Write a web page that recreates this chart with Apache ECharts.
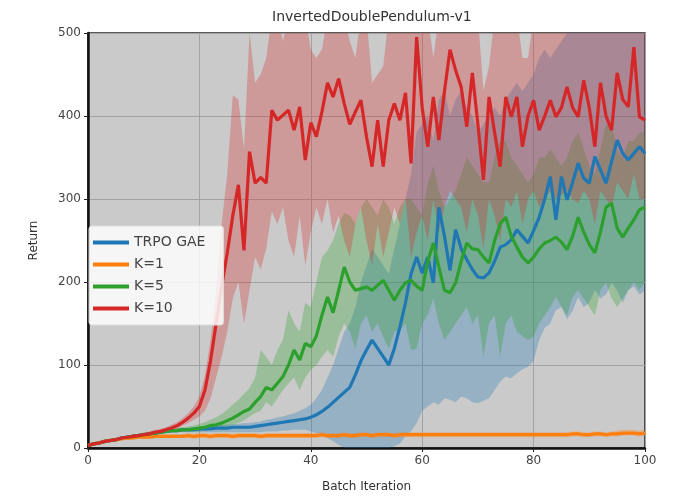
<!DOCTYPE html>
<html><head><meta charset="utf-8">
<script src="https://cdn.jsdelivr.net/npm/echarts@6/dist/echarts.min.js"></script>
<style>html,body{margin:0;padding:0;background:#fff}#c{width:682px;height:501px}</style>
</head><body><div id="c"></div>
<script>
const xTicks = ['0','20','40','60','80','100'];
const seriesNames = ['TRPO GAE','K=1','K=5','K=10'];

const trpoMean = [3,5,6,8,9,10,12,13,14,15,16,17,18,19,20,21,
21,22,22,22,23,23,23,24,24,24,25,25,
25,25,26,27,28,29,30,31,32,33,
34,35,37,40,44,49,55,61,67,73,
88,105,118,130,120,110,100,120,146,175,
210,230,211,230,199,290,255,214,263,240,
227,215,206,205,211,225,242,245,251,263,
255,247,262,278,300,327,275,327,299,320,
343,325,319,351,335,319,345,371,355,347,
355,363,355];
const trpoLow = [1,3,4,6,7,8,10,11,12,13,14,15,16,17,18,19,
19,19,19,19,19,19,19,19,19,19,19,19,
19,19,19,19,20,20,20,21,21,22,
22,22,20,18,15,12,8,4,0,0,
0,0,0,0,0,0,0,2,5,15,
20,30,45,50,55,52,60,58,55,62,
60,55,54,57,60,70,80,86,84,90,
95,98,105,130,145,150,166,170,155,165,
182,170,175,190,180,185,199,190,175,190,
195,185,190];
const trpoHigh = [5,7,8,10,11,12,14,15,16,17,18,19,20,21,22,23,
23,24,24,25,26,26,27,27,28,28,29,29,
30,30,31,32,34,35,37,38,40,42,
45,48,52,60,70,85,100,120,140,150,
170,200,220,240,230,220,210,240,270,300,
330,380,390,400,370,420,430,400,420,430,
410,400,380,390,400,410,400,420,430,440,
430,440,450,470,480,470,480,490,500,500,
500,510,510,520,510,520,520,520,520,520,
520,520,520];

const k1Mean = [3,5,6,8,9,10,11,12,12,13,13,13,14,14,14,14,
14,14,15,14,15,15,14,15,15,15,14,15,
15,15,15,14,15,15,15,15,15,15,
15,15,15,15,16,15,15,15,16,15,
15,16,16,15,16,16,16,15,16,16,
16,16,16,16,16,16,16,16,16,16,
16,16,16,16,16,16,16,16,16,16,
16,16,16,16,16,16,16,16,16,17,
17,16,16,17,17,16,17,17,18,18,
18,17,18];
const k1Low = [1,3,4,6,7,8,9,10,10,11,11,11,12,12,12,12,
12,12,12,11,12,12,11,12,12,12,11,12,
12,12,12,11,12,12,12,12,12,12,
12,12,12,12,13,12,12,12,13,12,
12,13,13,12,13,13,13,12,13,13,
13,13,13,13,13,13,13,13,13,13,
13,13,13,13,13,13,13,13,13,13,
13,13,13,13,13,13,13,13,13,14,
14,13,13,14,14,13,14,14,15,15,
15,14,15];
const k1High = [5,7,8,10,11,12,13,14,15,15,16,16,16,17,17,17,
17,17,18,17,18,18,17,18,18,18,17,18,
18,18,18,17,18,18,18,18,18,18,
18,18,18,18,19,18,18,18,19,18,
18,19,19,18,19,19,19,18,19,19,
19,19,19,19,19,19,19,19,19,19,
19,19,19,19,19,19,19,19,19,19,
19,19,19,19,19,19,19,19,19,20,
20,19,19,20,20,19,20,21,22,22,
22,21,22];

const k5Mean = [3,5,6,8,9,10,12,13,14,15,16,17,18,19,20,21,
21,22,22,23,24,25,27,28,30,33,36,40,
44,47,55,62,73,70,78,86,100,118,
106,126,122,135,160,182,163,190,218,200,
190,192,194,190,196,202,190,178,190,199,
202,195,190,225,247,218,190,187,199,225,
247,240,239,230,223,250,270,278,255,242,
230,223,230,240,247,250,254,248,239,255,
278,260,245,235,260,290,295,265,254,265,
275,287,290];
const k5Low = [1,3,4,6,7,8,10,11,12,13,14,15,16,17,18,19,
19,20,19,20,20,21,22,23,24,26,28,30,
33,38,42,45,55,50,60,70,78,85,
70,85,94,100,110,118,110,134,150,140,
120,150,160,140,150,134,120,140,142,150,
118,120,150,160,180,150,130,140,150,160,
170,150,160,110,150,160,110,150,160,140,
135,130,134,150,160,170,182,170,160,182,
190,180,170,160,190,199,180,170,180,190,
200,190,200];
const k5High = [5,7,8,10,11,12,14,15,16,17,18,19,20,21,22,23,
24,25,26,27,29,31,34,37,41,46,52,58,
65,72,85,118,110,100,118,130,166,150,
140,175,170,200,230,238,250,270,283,280,
270,290,300,290,280,300,290,270,290,300,
300,290,280,320,340,310,290,300,310,330,
350,340,330,320,320,350,370,370,350,340,
330,320,330,350,350,360,350,340,350,370,
380,360,340,330,360,390,390,360,350,370,
370,380,380];

const k10Mean = [3,5,6,8,9,10,12,13,14,15,16,17,19,20,22,24,
27,31,36,42,50,70,105,150,195,235,280,317,
238,357,319,326,319,407,395,401,407,383,
411,347,392,375,405,440,423,445,415,390,
405,419,375,339,395,339,395,415,395,428,
343,495,410,363,423,371,430,480,455,435,
387,452,390,323,423,380,339,423,399,423,
363,400,419,383,400,419,399,410,435,410,
399,443,410,363,440,400,383,452,420,411,
483,399,395];
const k10Low = [1,3,4,6,7,8,10,11,12,13,14,15,16,17,19,21,
23,27,30,34,38,45,60,85,110,140,180,200,
150,190,230,215,240,285,270,290,250,230,
280,220,260,290,270,300,260,280,250,230,
270,290,250,220,270,230,260,290,270,300,
230,260,280,250,300,260,290,310,300,290,
260,300,280,240,300,280,250,300,290,310,
270,300,310,290,300,310,300,305,310,300,
295,310,300,270,310,300,290,320,310,300,
330,300,300];
const k10High = [5,7,8,10,11,12,14,15,16,17,19,20,22,23,25,28,
31,36,42,50,62,88,130,190,270,330,425,420,
360,500,440,450,470,520,520,490,520,520,
520,520,480,470,480,520,520,520,520,490,
470,520,520,440,450,460,520,520,520,520,
520,560,520,520,470,520,520,520,520,520,
520,520,520,430,460,520,520,520,520,520,
470,470,520,520,520,520,520,520,520,520,
520,520,520,520,520,520,520,520,520,520,
560,520,520];

const colors = ['#1f77b4','#ff7f0e','#2ca02c','#d62728'];
const means = [trpoMean, k1Mean, k5Mean, k10Mean];
const lows = [trpoLow, k1Low, k5Low, k10Low];
const highs = [trpoHigh, k1High, k5High, k10High];

const cats = trpoMean.map((_, i) => String(i));
const series = [];
seriesNames.forEach((n, k) => {
  series.push({
    name: n + '_lo', type: 'line', stack: 'band' + k, data: lows[k],
    symbol: 'none', lineStyle: {width: 0, opacity: 0}, silent: true, z: 1
  });
  series.push({
    name: n + '_band', type: 'line', stack: 'band' + k,
    data: highs[k].map((v, i) => v - lows[k][i]),
    symbol: 'none', lineStyle: {width: 0, opacity: 0},
    areaStyle: {color: colors[k], opacity: 0.3}, silent: true, z: 1
  });
});
seriesNames.forEach((n, k) => {
  series.push({
    name: n, type: 'line', data: means[k], symbol: 'none',
    lineStyle: {width: 3.2, color: colors[k]}, itemStyle: {color: colors[k]}, z: 3
  });
});

const font = 'DejaVu Sans';
const chart = echarts.init(document.getElementById('c'), null, {renderer: 'canvas'});
chart.setOption({
  animation: false,
  backgroundColor: '#ffffff',
  title: {
    text: 'InvertedDoublePendulum-v1', left: 267, top: 5,
    textStyle: {fontFamily: font, fontSize: 14, fontWeight: 'normal', color: '#333'}
  },
  legend: {
    data: seriesNames, orient: 'vertical', left: 89, top: 226,
    icon: 'rect', itemWidth: 36, itemHeight: 4, itemGap: 7, itemTextGap: 12,
    padding: [9, 18, 9, 4],
    backgroundColor: 'rgba(255,255,255,0.82)', borderColor: '#dddddd', borderWidth: 1, borderRadius: 3,
    textStyle: {fontFamily: font, fontSize: 14, color: '#444', lineHeight: 15}
  },
  grid: {
    left: 88, right: 37, top: 33, bottom: 53,
    show: true, backgroundColor: '#cacaca', borderColor: '#222', borderWidth: 1.5
  },
  xAxis: {
    type: 'category', data: cats, boundaryGap: false,
    name: 'Batch Iteration', nameLocation: 'middle', nameGap: 33,
    nameTextStyle: {fontFamily: font, fontSize: 12, color: '#333'},
    axisLine: {lineStyle: {color: '#111', width: 2.5}},
    axisTick: {show: true, length: 4, interval: (i) => i % 20 === 0, lineStyle: {color: '#222'}},
    axisLabel: {interval: (i) => i % 20 === 0, formatter: (v) => xTicks.includes(v) ? v : '',
      fontFamily: font, fontSize: 12, color: '#444', margin: 7},
    splitLine: {show: true, interval: (i) => i % 20 === 0, lineStyle: {color: '#a2a2a2', width: 1}}
  },
  yAxis: {
    type: 'value', min: 0, max: 500, interval: 100,
    name: 'Return', nameLocation: 'middle', nameGap: 48,
    nameTextStyle: {fontFamily: font, fontSize: 12, color: '#333'},
    axisLine: {show: true, lineStyle: {color: '#111', width: 2.5}},
    axisTick: {show: true, length: 4, lineStyle: {color: '#222'}},
    axisLabel: {fontFamily: font, fontSize: 12, color: '#444', margin: 7},
    splitLine: {show: true, lineStyle: {color: '#a2a2a2', width: 1}}
  },
  series: series
});
</script>
</body></html>
